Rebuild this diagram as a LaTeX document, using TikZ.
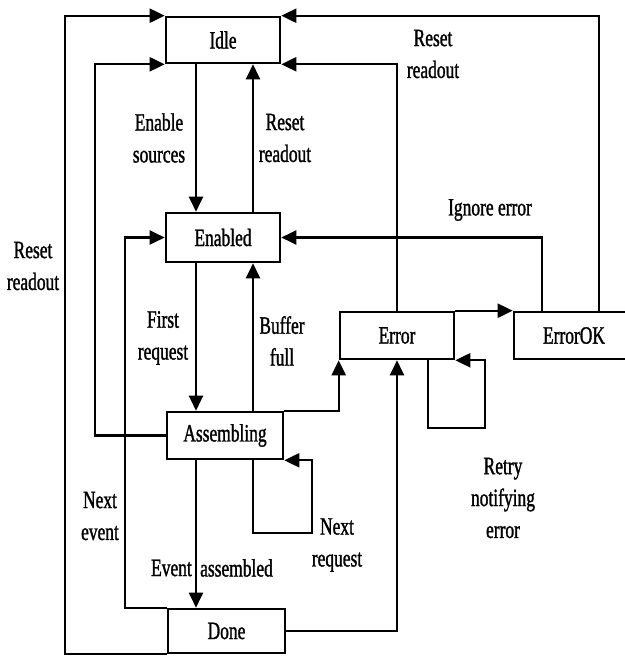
\documentclass[tikz,border=0pt]{standalone}
\usepackage{fontspec}
\setmainfont{Liberation Serif}[FakeStretch=0.70,FakeBold=1.2]
\usetikzlibrary{arrows.meta}
\begin{document}
\begin{tikzpicture}[x=1bp,y=-1bp,
  state/.style={draw,line width=2.6bp,minimum width=114bp,minimum height=46bp,inner sep=0pt,
    font=\fontsize{25}{32}\selectfont},
  conn/.style={line width=2.2bp,-{Triangle[length=15bp,width=14bp]}},
  lbl/.style={align=center,inner sep=0pt,font=\fontsize{25}{32}\selectfont}]
\useasboundingbox (0,0) rectangle (625,658);
% states
\node[state] (idle) at (223,40) {Idle};
\node[state,minimum height=49bp] (enabled) at (223,237.5) {Enabled};
\node[state,minimum width=116bp,minimum height=47bp] (asm) at (225,435.5) {Assembling};
\node[state,minimum width=117bp,minimum height=44bp] (done) at (226.5,631) {Done};
\node[state,minimum height=47bp] (error) at (397,335.5) {Error};
\node[state,minimum width=120bp,minimum height=47bp] (errok) at (574,335.5) {ErrorOK};
% lanes
\coordinate (cA) at (65,0);
\coordinate (cB) at (95,0);
\coordinate (cC) at (125,0);
\coordinate (cD) at (196,0);
\coordinate (cU) at (253,0);
\coordinate (cG) at (542,0);
\coordinate (cH) at (599,0);
\coordinate (aL) at (312,533);
\coordinate (eL1) at (428,428);
\coordinate (eL2) at (485,428);
% connectors
\draw[conn] (done.south west) -- (cA |- done.south west) -- (cA |- idle.north west) -- (idle.north west);
\draw[conn] (asm.west) -- (cB |- asm.west) -- (cB |- idle.south west) -- (idle.south west);
\draw[conn] (done.north west) -- (cC |- done.north west) -- (cC |- enabled.west) -- (enabled.west);
\draw[conn] (idle.south -| cD) -- (enabled.north -| cD);
\draw[conn] (enabled.north -| cU) -- (idle.south -| cU);
\draw[conn] (enabled.south -| cD) -- (asm.north -| cD);
\draw[conn] (asm.north -| cU) -- (enabled.south -| cU);
\draw[conn] (asm.south -| cD) -- (done.north -| cD);
\draw[conn] (asm.south -| cU) -- (cU |- aL) -- (aL) -- (aL |- asm.south east) -- (asm.south east);
\draw[conn] (asm.north east) -- (error.south west |- asm.north east) -- (error.south west);
\draw[conn] (done.east) -- (error.south |- done.east) -- (error.south);
\draw[conn] (error.north) -- (error.north |- idle.south east) -- (idle.south east);
\draw[conn] (error.north east) -- (errok.north west);
\draw[conn] (error.south -| eL1) -- (eL1) -- (eL2) -- (eL2 |- error.south east) -- (error.south east);
\draw[conn] (errok.north -| cG) -- (cG |- enabled.east) -- (enabled.east);
\draw[conn] (errok.north -| cH) -- (cH |- idle.north east) -- (idle.north east);
% labels
\node[lbl] (l1) at (33,266) {Reset\\readout};
\node[lbl] (l2) at (159,138) {Enable\\sources};
\node[lbl] (l3) at (285,138) {Reset\\readout};
\node[lbl] (l4) at (433,54) {Reset\\readout};
\node[lbl] (l5) at (490,210) {Ignore error};
\node[lbl] (l6) at (163,338) {First\\request};
\node[lbl] (l7) at (282,341) {Buffer\\full};
\node[lbl] (l8) at (100,516) {Next\\event};
\node[lbl,anchor=east] (l9) at (192,568) {Event};
\node[lbl,anchor=west] (l10) at (200,568) {assembled};
\node[lbl] (l11) at (337,545) {Next\\request};
\node[lbl] (l12) at (503,498) {Retry\\notifying\\error};
\end{tikzpicture}
\end{document}
